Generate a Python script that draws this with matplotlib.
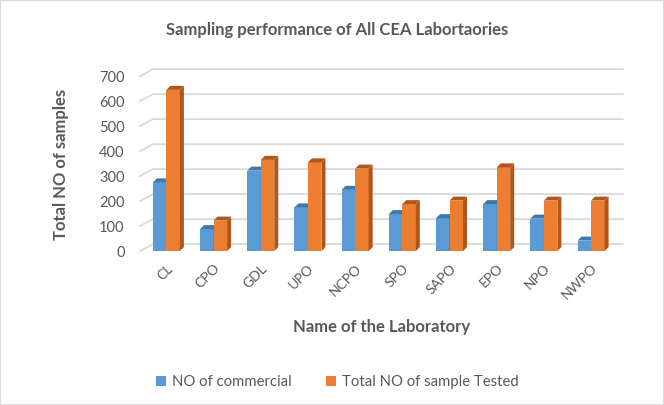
import matplotlib.pyplot as plt
from matplotlib.patches import Polygon, Rectangle
import numpy as np

labs = ['CL', 'CPO', 'GDL', 'UPO', 'NCPO', 'SPO', 'SAPO', 'EPO', 'NPO', 'NWPO']
commercial = [275, 88, 322, 175, 245, 148, 132, 188, 130, 42]
tested = [645, 122, 365, 355, 330, 188, 202, 335, 202, 202]
yticks = list(range(0, 701, 100))

blue, blue_dark = '#5B9BD5', '#3F78AC'
orange, orange_dark = '#ED7D31', '#B0561C'
grey = '#595959'

plt.rcParams['font.family'] = ['Lato', 'DejaVu Sans']

fig = plt.figure(figsize=(6.64, 4.05), dpi=100)
ax = fig.add_axes([0.2108, 0.380, 0.727, 0.432])

w = 0.286
dx, dy = 0.085, 16
x = np.arange(len(labs))

ax.set_xlim(-0.56, 9.67)
ax.set_ylim(0, 700)

# back-wall gridlines with the short diagonal on the left (Excel 3D look)
back = 28
gx0 = 0.027
for v in yticks:
    ax.plot([0, gx0, 1], [v, v + back, v + back], color='#D9D9D9', lw=1.3,
            transform=ax.get_yaxis_transform(), clip_on=False, zorder=1)


def bars3d(xs, vals, face, dark, label):
    ax.bar(xs, vals, w, color=face, label=label, zorder=3, align='edge')
    for xi, v in zip(xs, vals):
        ax.add_patch(Polygon([(xi + w, 0), (xi + w + dx, dy), (xi + w + dx, v + dy), (xi + w, v)],
                             closed=True, color=dark, zorder=3, lw=0))
        ax.add_patch(Polygon([(xi, v), (xi + dx, v + dy), (xi + w + dx, v + dy), (xi + w, v)],
                             closed=True, color=dark, zorder=3, lw=0))


bars3d(x - w, commercial, blue, blue_dark, 'NO of commercial')
bars3d(x, tested, orange, orange_dark, 'Total NO of sample Tested')

ax.set_yticks(yticks)
ax.set_xticks(x)
ax.set_xticklabels(labs, rotation=45, ha='right', rotation_mode='anchor')
ax.tick_params(length=0, colors=grey)
ax.tick_params(axis='y', labelsize=10.5, pad=11)
ax.tick_params(axis='x', labelsize=10, pad=8)
for s in ax.spines.values():
    s.set_visible(False)

fig.text(0.507, 0.926, 'Sampling performance of All CEA Labortaories', fontsize=12,
         fontweight='bold', color=grey, ha='center', va='center')
fig.text(0.092, 0.595, 'Total NO of samples', fontsize=12, fontweight='bold', color=grey,
         rotation=90, ha='center', va='center')
ax.set_xlabel('Name of the Laboratory', fontsize=12, fontweight='bold', color=grey, labelpad=12)

leg = fig.legend(loc='center', bbox_to_anchor=(0.508, 0.057), ncol=2, frameon=False,
                 fontsize=10.7, handlelength=0.7, handleheight=0.7, columnspacing=2.3,
                 handletextpad=0.4)
for t in leg.get_texts():
    t.set_color(grey)

fig.patches.append(Rectangle((0, 0), 1, 1, transform=fig.transFigure, fill=False,
                             edgecolor='#D9D9D9', lw=1.5))

fig.savefig('out.png', dpi=100)
